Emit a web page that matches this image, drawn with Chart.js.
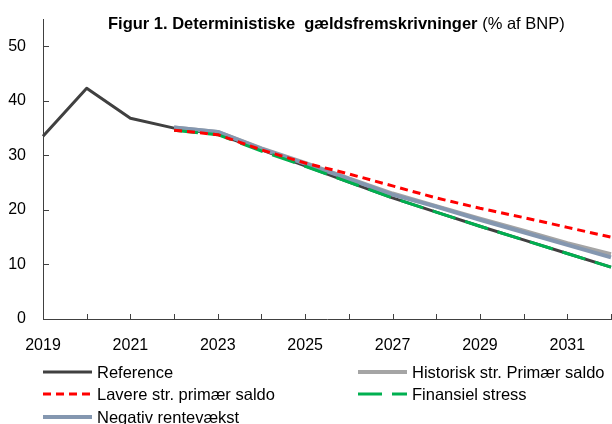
<!DOCTYPE html>
<html>
<head>
<meta charset="utf-8">
<script src="https://cdn.jsdelivr.net/npm/chart.js@4/dist/chart.umd.min.js"></script>
<style>
    body { margin: 0; background: #fff; }
    #wrap { position: relative; width: 612px; height: 424px; font-family: 'Liberation Sans', Arial, sans-serif; color: #000; }
    #wrap canvas { position: absolute; left: 0; top: 0; }
    .title { position: absolute; left: 108px; top: 13px; font-size: 16.5px; line-height: 20px; white-space: nowrap; }
    .title b { font-weight: bold; }
    .leg { position: absolute; font-size: 16.5px; line-height: 20px; white-space: nowrap; }
    .leg svg { position: absolute; left: 0; top: 0; }
    .leg span { position: absolute; left: 54px; top: 0; }
</style>
</head>
<body>
<div id="wrap">
    <canvas id="chart" width="612" height="424"></canvas>
    <div class="title"><b>Figur 1. Deterministiske&nbsp; gældsfremskrivninger</b> (% af BNP)</div>
    <div id="legend"></div>
</div>
<script>
// data
const years = ['2019', '2020', '2021', '2022', '2023', '2024', '2025', '2026', '2027', '2028', '2029', '2030', '2031', '2032'];
const reference = [33.5, 42.3, 36.8, 35.0, 33.9, 31.0, 28.1, 25.1, 22.2, 19.6, 17.0, 14.5, 12.0, 9.5];
const historisk = [null, null, null, 35.1, 34.3, 31.3, 28.6, 25.8, 23.0, 20.7, 18.4, 16.2, 13.9, 11.9];
const lavere = [null, null, null, 34.6, 33.8, 31.0, 28.6, 26.6, 24.4, 22.2, 20.3, 18.6, 16.8, 15.0];
const finansiel = [null, null, null, 34.6, 33.8, 30.8, 28.0, 25.1, 22.2, 19.6, 17.0, 14.5, 12.0, 9.5];
const negativ = [null, null, null, 35.1, 34.3, 31.2, 28.5, 25.7, 22.8, 20.6, 18.2, 15.9, 13.6, 11.3];
const yTicks = [0, 10, 20, 30, 40, 50];

const axisColor = '#404040';
const font = { family: "'Liberation Sans', Arial, sans-serif", size: 16 };

const series = [
    { label: 'Reference', data: reference, color: '#404040', width: 3, dash: [], order: 5 },
    { label: 'Historisk str. Primær saldo', data: historisk, color: '#A5A5A5', width: 4, dash: [], order: 4 },
    { label: 'Lavere str. primær saldo', data: lavere, color: '#FF0000', width: 3, dash: [8, 5], order: 1 },
    { label: 'Finansiel stress', data: finansiel, color: '#00B050', width: 3, dash: [24, 10], order: 2 },
    { label: 'Negativ rentevækst', data: negativ, color: '#8497B0', width: 4, dash: [], order: 3 }
];

// small inward tick marks on both axes
const innerTicks = {
    id: 'innerTicks',
    afterDraw(chart) {
        const ctx = chart.ctx;
        const x = chart.scales.x, y = chart.scales.y;
        const area = chart.chartArea;
        ctx.save();
        ctx.strokeStyle = axisColor;
        ctx.lineWidth = 1;
        ctx.beginPath();
        x.ticks.forEach((t, i) => {
            const px = Math.round(x.getPixelForTick(i)) + 0.5;
            ctx.moveTo(px, area.bottom);
            ctx.lineTo(px, area.bottom - 5);
        });
        y.ticks.forEach((t, i) => {
            const py = Math.round(y.getPixelForTick(i)) + 0.5;
            ctx.moveTo(area.left, py);
            ctx.lineTo(area.left + 6, py);
        });
        ctx.stroke();
        ctx.restore();
    }
};

new Chart(document.getElementById('chart'), {
    type: 'line',
    data: {
        labels: years,
        datasets: series.map(s => ({
            label: s.label,
            data: s.data,
            borderColor: s.color,
            backgroundColor: s.color,
            borderWidth: s.width,
            borderDash: s.dash,
            order: s.order,
            pointRadius: 0,
            tension: 0,
            fill: false,
            borderJoinStyle: 'round'
        }))
    },
    options: {
        responsive: false,
        animation: false,
        events: [],
        layout: { padding: { top: 19, left: 0, right: 1, bottom: 65 } },
        plugins: { legend: { display: false }, title: { display: false }, tooltip: { enabled: false } },
        scales: {
            x: {
                offset: false,
                grid: { display: true, drawOnChartArea: false, drawTicks: false },
                border: { color: axisColor, width: 1 },
                ticks: {
                    color: '#000', font: font, padding: 17, autoSkip: false, maxRotation: 0,
                    callback: (v, i) => (i % 2 === 0 ? years[i] : '')
                },
                afterFit: s => { s.height = 40; s.paddingLeft = 0; s.paddingRight = 0; }
            },
            y: {
                min: 0, max: 55, bounds: 'data',
                grid: { display: true, drawOnChartArea: false, drawTicks: false },
                border: { color: axisColor, width: 1 },
                ticks: { color: '#000', font: font, padding: 17, stepSize: 10, includeBounds: false },
                afterBuildTicks: s => { s.ticks = yTicks.map(v => ({ value: v })); },
                afterFit: s => { s.width = 43; s.paddingTop = 0; s.paddingBottom = 0; }
            }
        }
    },
    plugins: [innerTicks]
});

// legend in two columns, like the original
const legendPos = [[43, 362], [358, 362], [43, 384], [358, 384], [43, 407]];
const legendEl = document.getElementById('legend');
series.forEach((s, i) => {
    const d = document.createElement('div');
    d.className = 'leg';
    d.style.left = legendPos[i][0] + 'px';
    d.style.top = legendPos[i][1] + 'px';
    d.innerHTML = '<svg width="49" height="20"><line x1="0" y1="10" x2="49" y2="10" stroke="' + s.color +
        '" stroke-width="' + s.width + '" stroke-dasharray="' + (s.dash.length ? s.dash.join(',') : 'none') + '"/></svg>' +
        '<span>' + s.label + '</span>';
    legendEl.appendChild(d);
});
</script>
</body>
</html>
